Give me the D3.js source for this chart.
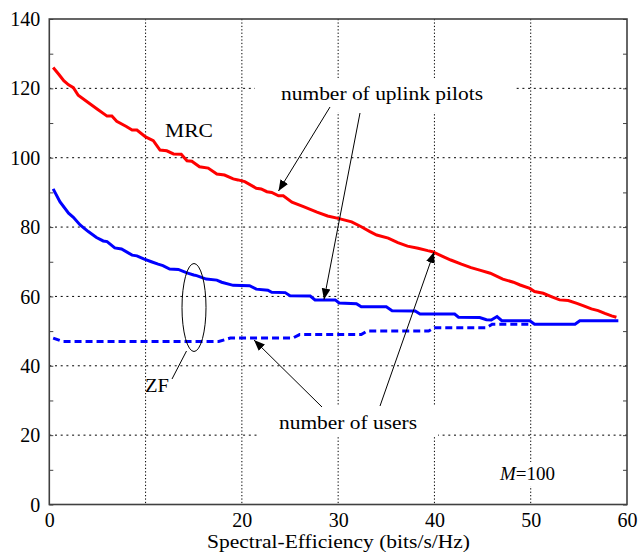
<!DOCTYPE html>
<html>
<head>
<meta charset="utf-8">
<script src="https://cdn.jsdelivr.net/npm/d3@7"></script>
<style>
  html, body { margin: 0; padding: 0; background: #fff; }
  svg { display: block; }
  text { font-family: "Liberation Serif", "Times New Roman", serif; fill: #000; }
</style>
</head>
<body>
<svg id="chart" width="638" height="553"></svg>
<script>
// ---------- data ----------
const xTickValues = [0, 10, 20, 30, 40, 50, 60];
const xTickLabels = ["0", "", "20", "30", "40", "50", "60"];
const yTickValues = [0, 20, 40, 60, 80, 100, 120, 140];
const yTickLabels = ["0", "20", "40", "60", "80", "100", "120", "140"];

// MRC: number of uplink pilots
const mrcX = [0.4, 1, 1.5, 2, 2.5, 3, 4, 5, 6, 6.5, 7, 8, 8.6, 9.1, 10, 10.8, 11.5, 12.2, 12.9, 13.7, 14.3, 14.8,
  15.6, 16.5, 17.4, 18.2, 19.1, 19.6, 20.3, 21.5, 22, 22.6, 23.1, 23.8, 24.3, 25.2, 26.4, 27.8, 28.9, 30,
  31.4, 32.4, 33.3, 34, 35.2, 36.2, 37.2, 38.3, 39.3, 39.8, 40.9, 41.7, 42.8, 43.8, 44.7, 45.8, 47.1, 48.2,
  48.9, 49.9, 50.4, 51.3, 52.2, 53, 53.9, 54.8, 55.5, 56.3, 57, 57.7, 58.4, 58.9];
const mrcPilots = [126, 124, 122.2, 121, 120.2, 118, 116, 114, 112, 112, 110.5, 109, 108, 108, 106, 104.9, 102.2, 102, 101.1, 101, 99.1, 99,
  97.4, 97, 95.3, 95, 93.9, 93.6, 93.1, 91.2, 91, 90.2, 90, 89, 89, 87.2, 85.9, 84.3, 83.2, 82.5,
  81.5, 80.1, 78.7, 77.7, 76.8, 75.5, 74.5, 73.9, 73.2, 72.9, 71.5, 70.5, 69.3, 68.3, 67.6, 66.7, 65, 64.1,
  63.3, 62.3, 61.4, 60.9, 59.9, 59, 58.8, 58, 57.3, 56.4, 55.9, 55.1, 54.4, 54];

// ZF: number of uplink pilots
const zfPilotsX = [0.4, 1.1, 2, 2.5, 3.2, 4.05, 4.9, 5.6, 6, 6.8, 7.5, 8.6, 9.1, 9.8, 10.6, 11.3, 11.8, 12.5, 13.4, 14.3, 15,
  15.3, 16.3, 17.4, 17.9, 19.1, 20.8, 21.5, 22.7, 23.1, 24.5, 25, 27.1, 27.6, 29.7, 30.1, 31.9, 32.4, 35, 35.6,
  38, 38.5, 42.1, 42.5, 44.7, 45.4, 45.9, 46.5, 47, 49.9, 50.4, 54.6, 55.1, 59.1];
const zfPilots = [91, 87.3, 84, 82.8, 80.6, 78.7, 77, 76, 75.8, 74, 73.7, 71.9, 71.7, 70.8, 70, 69.3, 68.9, 67.9, 67.8, 66.8, 66.2,
  66, 65, 64.7, 64.1, 63.2, 63.1, 62.1, 61.8, 61.2, 61.1, 60.2, 60.1, 59, 59, 58.1, 57.9, 57, 57, 55.9,
  55.8, 54.9, 54.9, 54, 53.9, 53.3, 53.2, 54.2, 53, 53, 52, 52, 53, 53];

// ZF: number of users
const zfUsersX = [0.4, 1.4, 17.6, 18.8, 25.3, 26, 32.4, 33, 39.4, 40, 45.4, 46, 50];
const zfUsers = [48, 47, 47, 48, 48, 49, 49, 50, 50, 51, 51, 52, 52];

// ---------- layout ----------
const svg = d3.select("#chart");
const L = 49.3, R = 627, T = 19, B = 504.5;
const x = d3.scaleLinear().domain([0, 60]).range([L, R]);
const y = d3.scaleLinear().domain([0, 140]).range([B, T]);

// grid
const grid = svg.append("g");
grid.selectAll("line.gx").data([10, 20, 30, 40, 50]).enter().append("line")
  .attr("x1", d => x(d)).attr("x2", d => x(d)).attr("y1", T).attr("y2", B)
  .attr("stroke", "#000").attr("stroke-width", 1).attr("stroke-dasharray", "1.3,2.1");
grid.selectAll("line.gy").data([20, 40, 60, 80, 100, 120]).enter().append("line")
  .attr("x1", L).attr("x2", R).attr("y1", d => y(d)).attr("y2", d => y(d))
  .attr("stroke", "#000").attr("stroke-width", 1).attr("stroke-dasharray", "2,3.7");

// white boxes behind annotations (interrupt grid)
svg.append("rect").attr("x", 255).attr("y", 78).attr("width", 260).attr("height", 34).attr("fill", "#fff");
svg.append("rect").attr("x", 260).attr("y", 405).attr("width", 178).attr("height", 32).attr("fill", "#fff");
svg.append("rect").attr("x", 496).attr("y", 462).attr("width", 70).attr("height", 24).attr("fill", "#fff");

// minor ticks (every 10) left and right, inside
const minorY = d3.range(0, 141, 10);
svg.append("g").attr("transform", `translate(${L},0)`)
  .call(d3.axisRight(y).tickValues(minorY).tickSize(4).tickFormat(""))
  .call(g => g.select(".domain").remove())
  .selectAll("line").attr("stroke", "#444");
svg.append("g").attr("transform", `translate(${R},0)`)
  .call(d3.axisLeft(y).tickValues(minorY).tickSize(4).tickFormat(""))
  .call(g => g.select(".domain").remove())
  .selectAll("line").attr("stroke", "#444");

// tick labels
const yAx = svg.append("g").attr("transform", `translate(${L - 9},0)`)
  .call(d3.axisLeft(y).tickValues(yTickValues).tickSize(0).tickPadding(0)
    .tickFormat((d, i) => yTickLabels[i]));
yAx.select(".domain").remove();
yAx.selectAll("text").attr("font-size", 20).attr("font-family", "Liberation Serif").attr("dy", "0.33em");

const xAx = svg.append("g").attr("transform", `translate(0,${B + 8})`)
  .call(d3.axisBottom(x).tickValues(xTickValues).tickSize(0).tickPadding(0)
    .tickFormat((d, i) => xTickLabels[i]));
xAx.select(".domain").remove();
xAx.selectAll("text").attr("font-size", 20).attr("font-family", "Liberation Serif").attr("dy", "0.74em");

// frame
svg.append("rect").attr("x", L).attr("y", T).attr("width", R - L).attr("height", B - T)
  .attr("fill", "none").attr("stroke", "#404040").attr("stroke-width", 1.6);

// series
const line = d3.line().x(d => x(d[0])).y(d => y(d[1]));
svg.append("path").datum(zfUsersX.map((v, i) => [v, zfUsers[i]]))
  .attr("d", line).attr("fill", "none").attr("stroke", "#0000ff").attr("stroke-width", 3)
  .attr("stroke-dasharray", "7,4");
svg.append("path").datum(zfPilotsX.map((v, i) => [v, zfPilots[i]]))
  .attr("d", line).attr("fill", "none").attr("stroke", "#0000ff").attr("stroke-width", 3);
svg.append("path").datum(mrcX.map((v, i) => [v, mrcPilots[i]]))
  .attr("d", line).attr("fill", "none").attr("stroke", "#ff0000").attr("stroke-width", 3);

// arrows
const defs = svg.append("defs");
defs.append("marker").attr("id", "ah").attr("viewBox", "0 0 10 10")
  .attr("refX", 10).attr("refY", 5).attr("markerWidth", 11).attr("markerHeight", 11)
  .attr("markerUnits", "userSpaceOnUse").attr("orient", "auto")
  .append("path").attr("d", "M0,1 L10,5 L0,9 Z").attr("fill", "#000");

const arrows = [
  [330, 107, 278.5, 191],
  [360, 113, 324, 299.5],
  [380, 406, 434, 252],
  [322, 407, 254, 340]
];
svg.selectAll("line.arrow").data(arrows).enter().append("line")
  .attr("x1", d => d[0]).attr("y1", d => d[1]).attr("x2", d => d[2]).attr("y2", d => d[3])
  .attr("stroke", "#000").attr("stroke-width", 1).attr("marker-end", "url(#ah)");

// ZF ellipse and leader
svg.append("ellipse").attr("cx", 194).attr("cy", 307.5).attr("rx", 12).attr("ry", 44)
  .attr("fill", "none").attr("stroke", "#000").attr("stroke-width", 1);
svg.append("line").attr("x1", 186.5).attr("y1", 351).attr("x2", 172).attr("y2", 379)
  .attr("stroke", "#000").attr("stroke-width", 1);

// texts
function label(t, xx, yy, w, size, anchor) {
  const el = svg.append("text").attr("x", xx).attr("y", yy).attr("font-size", size)
    .attr("text-anchor", anchor || "start").text(t);
  if (w) el.attr("textLength", w).attr("lengthAdjust", "spacingAndGlyphs");
  return el;
}
label("number of uplink pilots", 281, 100, 202, 19);
label("number of users", 279, 429, 138, 19);
label("MRC", 165, 137, 48, 19);
label("ZF", 145, 392, 24, 19);
const m = svg.append("text").attr("x", 500).attr("y", 480).attr("font-size", 19);
m.append("tspan").attr("font-style", "italic").text("M");
m.append("tspan").text("=100");
label("Spectral-Efficiency (bits/s/Hz)", 207, 548, 263, 19);
</script>
</body>
</html>
